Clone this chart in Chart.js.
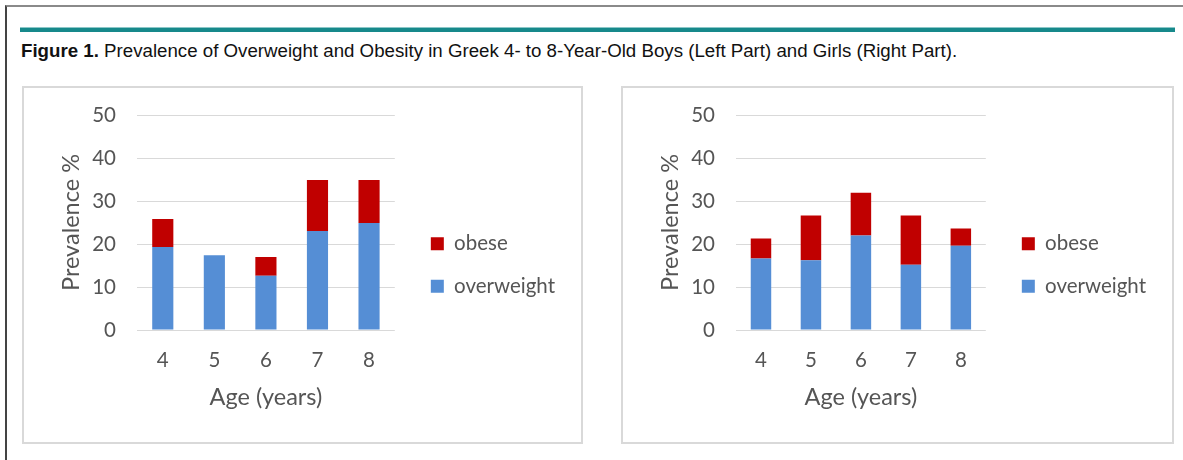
<!DOCTYPE html>
<html>
<head>
<meta charset="utf-8">
<script src="https://cdn.jsdelivr.net/npm/chart.js@4"></script>
<style>
  html, body { margin: 0; padding: 0; background: #fff; width: 1183px; height: 460px; overflow: hidden; position: relative; }
  #frame { position: absolute; left: 5px; top: 5px; width: 1200px; height: 500px; border-left: 2px solid #444; border-top: 2px solid #8a8a8a; }
  #rule { position: absolute; left: 20px; top: 27px; width: 1155px; height: 4px; background: #17898b; border-top: 1px solid #8cc7c8; }
  #title { position: absolute; left: 21px; top: 41px; font-family: "Liberation Sans", Arial, sans-serif; font-size: 18.7px; line-height: 20px; color: #111; white-space: nowrap; }
  #title b { font-weight: bold; }
  .panel { position: absolute; border: 2px solid #d9d9d9; box-sizing: border-box; }
  canvas { position: absolute; }
</style>
</head>
<body>
<div id="frame"></div>
<div id="rule"></div>
<div id="title"><b>Figure 1.</b> Prevalence of Overweight and Obesity in Greek 4- to 8-Year-Old Boys (Left Part) and Girls (Right Part).</div>
<div class="panel" style="left:22px;top:86px;width:561px;height:358px;"></div>
<div class="panel" style="left:621px;top:86px;width:553px;height:358px;"></div>
<canvas id="boys" width="559" height="356" style="left:23px;top:87px;width:559px;height:356px;"></canvas>
<canvas id="girls" width="551" height="356" style="left:622px;top:87px;width:551px;height:356px;"></canvas>
<script>
const ages = ['4', '5', '6', '7', '8'];
const boysOverweight = [19.3, 17.4, 12.6, 23.0, 24.9];
const boysObese = [6.5, 0, 4.4, 11.9, 10.0];
const girlsOverweight = [16.6, 16.2, 22.0, 15.2, 19.6];
const girlsObese = [4.7, 10.4, 9.9, 11.4, 4.0];
const yTicks = [0, 10, 20, 30, 40, 50];
const seriesNames = ['overweight', 'obese'];
const seriesColors = ['#558ed5', '#c00000'];
const xTitle = 'Age (years)';
const yTitle = 'Prevalence %';

const FONT = 'Lato, Calibri, sans-serif';
const GRAY = '#555555';
const CLEAR = 'rgba(0,0,0,0)';

function makeChart(id, overweight, obese) {
  return new Chart(document.getElementById(id), {
    type: 'bar',
    data: {
      labels: ages,
      datasets: [
        { label: seriesNames[0], data: overweight, backgroundColor: seriesColors[0], borderWidth: 0, categoryPercentage: 1, barPercentage: 0.41 },
        { label: seriesNames[1], data: obese, backgroundColor: seriesColors[1], borderWidth: 0, categoryPercentage: 1, barPercentage: 0.41 }
      ]
    },
    options: {
      responsive: false,
      animation: false,
      devicePixelRatio: 1,
      layout: { padding: { top: 0, right: 17, bottom: 0, left: 0 } },
      plugins: {
        legend: {
          position: 'right',
          reverse: true,
          maxWidth: 300,
          labels: { boxWidth: 13, boxHeight: 13, padding: 22, color: GRAY, font: { family: FONT, size: 20.5 } }
        },
        tooltip: { enabled: false }
      },
      scales: {
        x: {
          stacked: true,
          grid: { display: false, drawTicks: false },
          border: { display: false },
          ticks: { color: GRAY, padding: 18, font: { family: FONT, size: 20.5 } },
          title: { display: true, text: xTitle, color: GRAY, font: { family: FONT, size: 23.5 }, padding: { top: 0, bottom: 31 } },
          afterFit(s) { s.height = 113; }
        },
        y: {
          stacked: true,
          min: yTicks[0],
          max: yTicks[yTicks.length - 1],
          afterBuildTicks(s) { s.ticks = yTicks.map(v => ({ value: v })); },
          grid: { color: '#d9d9d9', lineWidth: 1, drawTicks: true, tickLength: 5.3, tickColor: CLEAR },
          border: { display: false },
          ticks: { color: GRAY, padding: 15.7, font: { family: FONT, size: 20.5 } },
          title: { display: true, text: yTitle, color: GRAY, font: { family: FONT, size: 23.5 }, padding: { top: 34, bottom: 0 } },
          afterFit(s) { s.width = 114; }
        },
        gap: {
          position: 'right',
          display: true,
          grid: { display: false, drawTicks: false },
          border: { display: false },
          ticks: { display: false },
          afterFit(s) { s.width = 14; }
        }
      }
    }
  });
}

makeChart('boys', boysOverweight, boysObese);
makeChart('girls', girlsOverweight, girlsObese);
</script>
</body>
</html>
